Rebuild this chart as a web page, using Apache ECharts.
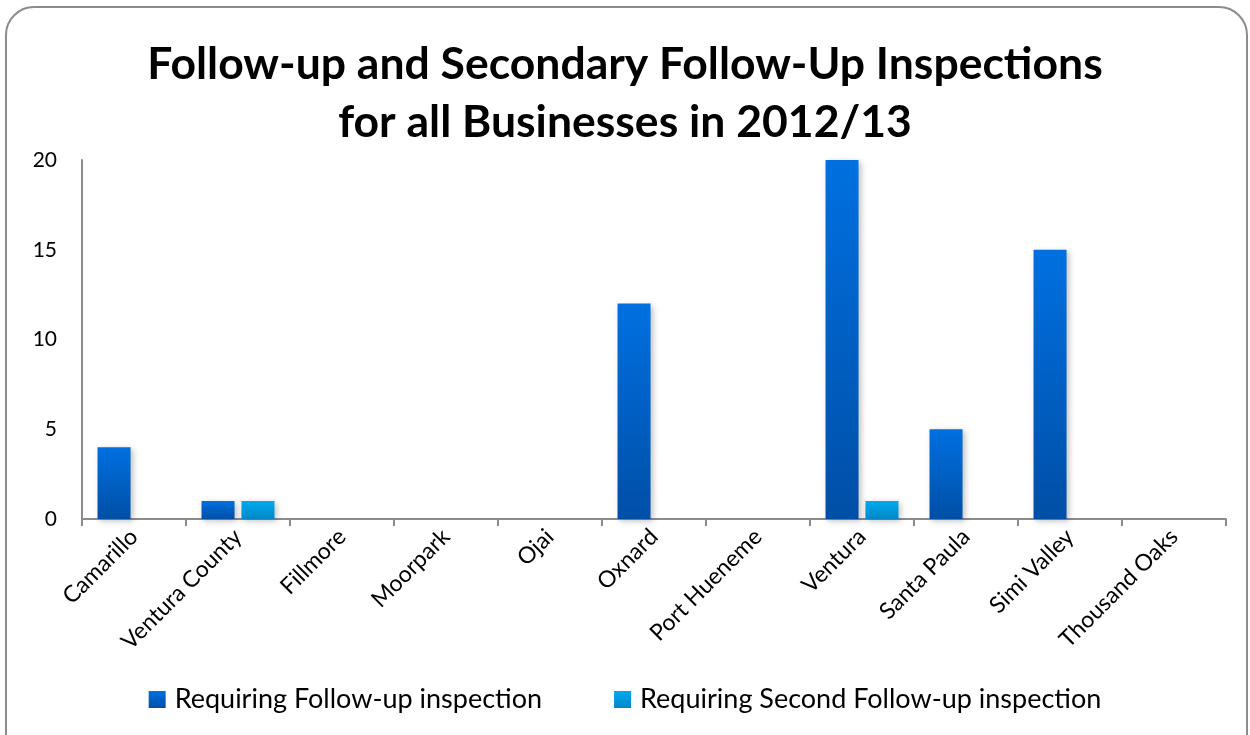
<!DOCTYPE html>
<html><head><meta charset="utf-8">
<script src="https://cdn.jsdelivr.net/npm/echarts@6/dist/echarts.min.js"></script>
<style>html,body{margin:0;padding:0;background:#fff}#c{width:1250px;height:735px}</style>
</head><body><div id="c"></div>
<script>
var categories = ['Camarillo','Ventura County','Fillmore','Moorpark','Ojai','Oxnard','Port Hueneme','Ventura','Santa Paula','Simi Valley','Thousand Oaks'];
var followUp = [4,1,0,0,0,12,0,20,5,15,0];
var secondFollowUp = [0,1,0,0,0,0,0,1,0,0,0];
var seriesNames = ['Requiring Follow-up inspection','Requiring Second Follow-up inspection'];
var yTicks = [0,5,10,15,20];

var font = 'Lato, "Open Sans", sans-serif';
function grad(top, bottom){
  return new echarts.graphic.LinearGradient(0,0,0,1,[{offset:0,color:top},{offset:1,color:bottom}]);
}
var chart = echarts.init(document.getElementById('c'));
chart.setOption({
  animation:false,
  backgroundColor:'#fff',
  graphic:[{type:'rect',shape:{x:6,y:7,width:1241,height:760,r:28},style:{fill:'none',stroke:'#8c8c8c',lineWidth:2},z:-1}],
  title:{text:'Follow-up and Secondary Follow-Up Inspections\nfor all Businesses in 2012/13',left:'center',top:31,
    textStyle:{fontFamily:font,fontWeight:'bold',fontSize:44.5,color:'#000',lineHeight:58}},
  legend:{bottom:17,left:'center',itemWidth:17,itemHeight:17,itemGap:72,icon:'rect',
    textStyle:{fontFamily:font,fontSize:27,color:'#000',padding:[0,0,0,4]},data:seriesNames},
  grid:{left:82,right:24,top:160,bottom:216,containLabel:false},
  xAxis:{type:'category',data:categories,
    axisLine:{lineStyle:{color:'#8c8c8c',width:2}},
    axisTick:{show:true,length:7,lineStyle:{color:'#8c8c8c',width:2}},
    axisLabel:{rotate:45,interval:0,fontFamily:font,fontSize:23,color:'#000',margin:14}},
  yAxis:{type:'value',min:0,max:20,interval:5,
    axisLine:{show:true,lineStyle:{color:'#8c8c8c',width:2}},
    axisTick:{show:false},splitLine:{show:false},
    axisLabel:{fontFamily:font,fontSize:21,color:'#000',margin:25,
      formatter:function(v){return yTicks.indexOf(v)>=0?String(v):'';}}},
  series:[
    {name:seriesNames[0],type:'bar',data:followUp,barWidth:33,barGap:'21%',
      itemStyle:{color:grad('#0070E0','#004FA6'),shadowColor:'rgba(0,0,0,0.25)',shadowBlur:6,shadowOffsetX:2,shadowOffsetY:2}},
    {name:seriesNames[1],type:'bar',data:secondFollowUp,barWidth:33,
      itemStyle:{color:grad('#00AAF0','#0087C8'),shadowColor:'rgba(0,0,0,0.25)',shadowBlur:6,shadowOffsetX:2,shadowOffsetY:2}}
  ]
});
</script></body></html>
